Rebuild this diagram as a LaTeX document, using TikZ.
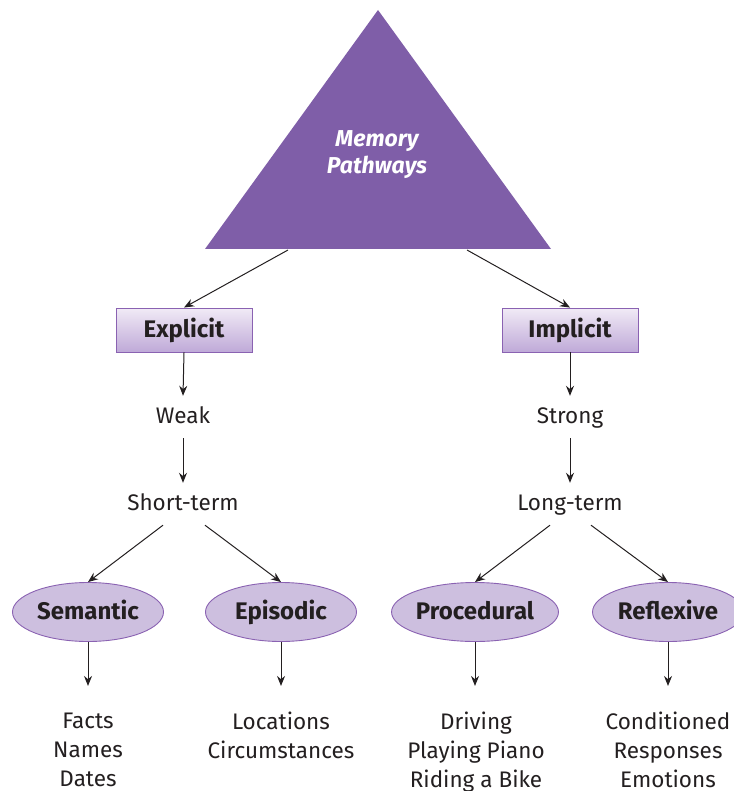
\documentclass[tikz,border=0pt]{standalone}
\usepackage{fontspec}
\setmainfont{Fira Sans}
\usetikzlibrary{arrows.meta,shapes.geometric}
\definecolor{tri}{HTML}{7F5EA8}
\definecolor{edge}{HTML}{8A62B2}
\definecolor{ell}{HTML}{CDBFDF}
\definecolor{boxtop}{HTML}{F1EBF6}
\definecolor{boxbot}{HTML}{BFA9D8}
\definecolor{ink}{HTML}{231F20}
\tikzset{
  conn/.style={draw=ink, line width=1pt, -{Stealth[length=10pt,width=8pt]}},
  kindbox/.style={draw=edge, line width=0.9pt, top color=boxtop, bottom color=boxbot,
    minimum width=136pt, minimum height=44pt, inner sep=0pt,
    text height=16pt, text depth=2pt,
    font=\fontsize{24}{26}\selectfont\bfseries, text=ink},
  oval/.style={ellipse, draw=edge, line width=0.9pt, fill=ell,
    minimum width=151pt, minimum height=59pt, inner sep=0pt,
    text height=16pt, text depth=2pt,
    font=\fontsize{24}{26}\selectfont\bfseries, text=ink},
  plain/.style={font=\fontsize{22.5}{29}\selectfont, text=ink, align=center, inner xsep=0pt,
    inner ysep=0pt, text height=16pt, text depth=4pt, minimum height=42pt},
  list/.style={font=\fontsize{22.5}{29}\selectfont, text=ink, align=center, inner sep=0pt, anchor=north},
}
\begin{document}
\begin{tikzpicture}[x=1pt,y=-1pt]
\useasboundingbox (0,0) rectangle (733,791);
\fill[tri] (378,10) -- (551,249) -- (205,249) -- cycle;
\node[font=\fontsize{23}{27}\selectfont\bfseries\itshape, text=white, align=center, inner sep=0pt] (mp) at (377,155) {Memory\\Pathways};
\coordinate (tl) at (288,250);
\coordinate (tr) at (467,250);

\node[kindbox] (explicit) at (184,330) {Explicit};
\node[kindbox] (implicit) at (570,330) {Implicit};

\node[plain] (weak) at (183,417) {Weak};
\node[plain] (short) at (183,504) {Short-term};
\node[plain] (strong) at (570,417) {Strong};
\node[plain] (long) at (570,504) {Long-term};

\node[oval] (semantic) at (88,612) {Semantic};
\node[oval] (episodic) at (281,612) {Episodic};
\node[oval] (procedural) at (475,612) {Procedural};
\node[oval] (reflexive) at (668,612) {Reflexive};

\node[list] (facts) at (88,712) {\rule{0pt}{16pt}Facts\\Names\\Dates};
\node[list] (loc) at (281,712) {\rule{0pt}{16pt}Locations\\Circumstances};
\node[list] (driv) at (476,712) {\rule{0pt}{16pt}Driving\\Playing Piano\\Riding a Bike};
\node[list] (cond) at (668,712) {\rule{0pt}{16pt}Conditioned\\Responses\\Emotions};

\draw[conn] (tl) -- (explicit.north);
\draw[conn] (tr) -- (implicit.north);
\draw[conn] (explicit.south) -- (weak.north);
\draw[conn] (weak.south) -- (short.north);
\draw[conn] (implicit.south) -- (strong.north);
\draw[conn] (strong.south) -- (long.north);
\draw[conn] ([shift={(-20,0)}]short.south) -- (semantic.north);
\draw[conn] ([shift={(22,0)}]short.south) -- (episodic.north);
\draw[conn] ([shift={(-20,0)}]long.south) -- (procedural.north);
\draw[conn] ([shift={(21,0)}]long.south) -- (reflexive.north);
\draw[conn] (semantic.south) -- ++(0,44);
\draw[conn] (episodic.south) -- ++(0,44);
\draw[conn] (procedural.south) -- ++(0,44);
\draw[conn] (reflexive.south) -- ++(0,44);
\end{tikzpicture}
\end{document}
